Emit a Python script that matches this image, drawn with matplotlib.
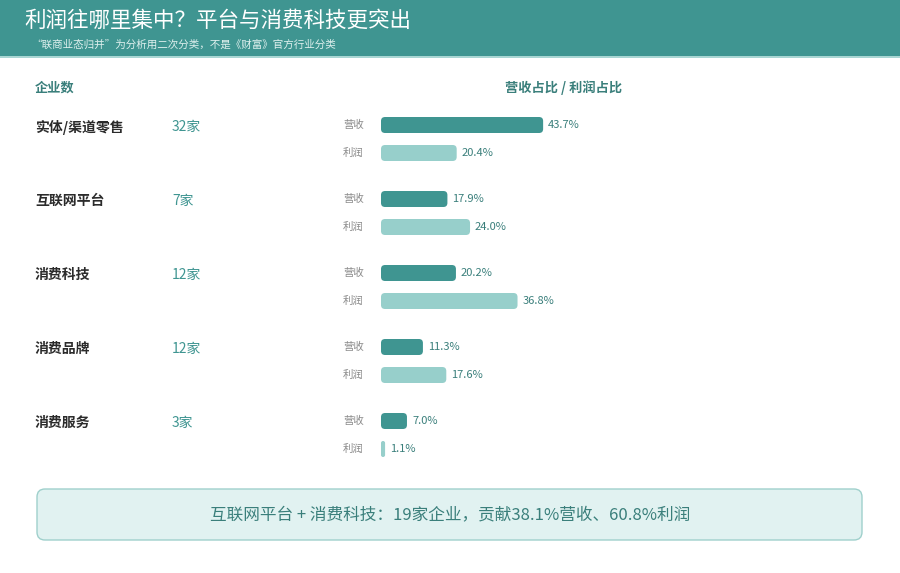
import matplotlib
matplotlib.use("Agg")
import matplotlib.pyplot as plt
from matplotlib.patches import FancyBboxPatch, Rectangle

plt.rcParams["font.family"] = ["Noto Sans CJK SC", "DejaVu Sans"]

# ---- data ----
categories = ["实体/渠道零售", "互联网平台", "消费科技", "消费品牌", "消费服务"]
counts = [32, 7, 12, 12, 3]
revenue_share = [43.7, 17.9, 20.2, 11.3, 7.0]
profit_share = [20.4, 24.0, 36.8, 17.6, 1.1]

title = "利润往哪里集中？平台与消费科技更突出"
subtitle = "“联商业态归并”为分析用二次分类，不是《财富》官方行业分类"
summary = "互联网平台 + 消费科技：19家企业，贡献38.1%营收、60.8%利润"

TEAL = "#3f9591"
LIGHT = "#97cfcb"
DARK_TEAL = "#3a7f7b"
W, H = 900, 573

fig = plt.figure(figsize=(9, 5.73), dpi=100)

# full-figure canvas in pixel coords for header / labels
bg = fig.add_axes([0, 0, 1, 1])
bg.set_xlim(0, W); bg.set_ylim(H, 0); bg.axis("off")
bg.add_patch(Rectangle((0, 0), W, 56, color=TEAL, lw=0))
bg.add_patch(Rectangle((0, 56), W, 2, color="#a9d6d3", lw=0))
bg.text(24, 21, title, color="white", fontsize=15.5, va="center", ha="left")
bg.text(31, 45, subtitle, color="#dff0ee", fontsize=7.6, va="center", ha="left")
bg.text(35, 88, "企业数", color=DARK_TEAL, fontsize=9.5, fontweight="bold", va="center")
bg.text(564, 88, "营收占比 / 利润占比", color=DARK_TEAL, fontsize=9.5, fontweight="bold",
        va="center", ha="center")

# bar axes: x in percent, y in group index
x0_px, px_per_pct, xmax = 381, 3.71, 50
ax = fig.add_axes([x0_px / W, 0, px_per_pct * xmax / W, 1])
ax.set_xlim(0, xmax)
grp_px, top_px = 74, 125
ax.set_ylim((H - top_px) / grp_px, -top_px / grp_px)
ax.axis("off")

offset = 28 / grp_px
bar_h = 16 / grp_px
r_x = 1.1
aspect = (4 / grp_px) / r_x

for i, (cat, n, rv, pf) in enumerate(zip(categories, counts, revenue_share, profit_share)):
    ylab = i + 2 / grp_px
    ax.text((35 - x0_px) / px_per_pct, ylab, cat, fontsize=10, color="#2b2b2b",
            fontweight="bold", va="center", ha="left")
    ax.text((172 - x0_px) / px_per_pct, ylab, f"{n}家", fontsize=10,
            color=TEAL, va="center", ha="left")
    for y, v, col, lab in [(i, rv, TEAL, "营收"), (i + offset, pf, LIGHT, "利润")]:
        rs = min(r_x, v / 2)
        ax.add_patch(FancyBboxPatch((0, y - bar_h / 2), v, bar_h,
                                    boxstyle=f"round,pad=0,rounding_size={rs}",
                                    mutation_aspect=aspect, facecolor=col, edgecolor="none"))
        ax.text(-38 / px_per_pct, y, lab, fontsize=7.5, color="#8a8a8a", va="center", ha="left")
        ax.text(v + 5 / px_per_pct, y, f"{v:.1f}%", fontsize=8, color=DARK_TEAL,
                va="center", ha="left")

# summary box
bg.add_patch(FancyBboxPatch((37, 489), 825, 51, boxstyle="round,pad=0,rounding_size=8",
                            facecolor="#e1f2f1", edgecolor="#9fd0cc", lw=1.0))
bg.text(450, 515, summary, fontsize=12, color=DARK_TEAL, va="center", ha="center")

fig.savefig("out.png", dpi=100)
